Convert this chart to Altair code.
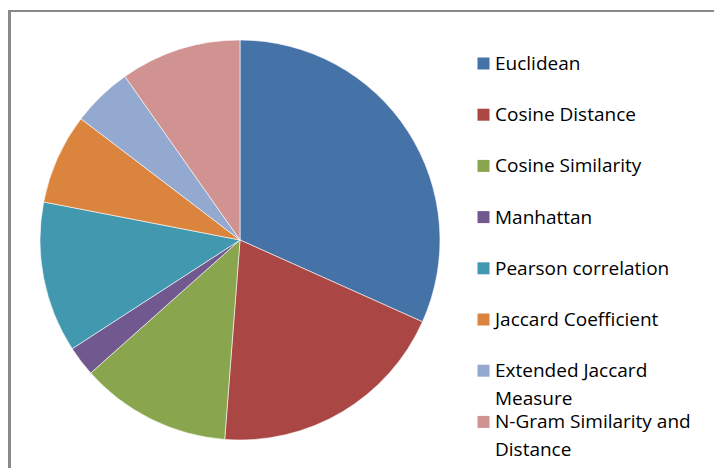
import altair as alt
import pandas as pd

categories = ["Euclidean", "Cosine Distance", "Cosine Similarity", "Manhattan",
              "Pearson correlation", "Jaccard Coefficient",
              "Extended Jaccard Measure", "N-Gram Similarity and Distance"]
labels = ["Euclidean", "Cosine Distance", "Cosine Similarity", "Manhattan",
          "Pearson correlation", "Jaccard Coefficient",
          "Extended Jaccard\nMeasure", "N-Gram Similarity and\nDistance"]
values = [13, 8, 5, 1, 5, 3, 2, 4]
colors = ["#4572A7", "#AA4643", "#89A54E", "#71588F",
          "#4198AF", "#DB843D", "#93A9CF", "#D19392"]

df = pd.DataFrame({
    "cat": categories,
    "label": labels,
    "value": values,
    "idx": list(range(len(categories))),
})

color = alt.Color("cat:N", scale=alt.Scale(domain=categories, range=colors), legend=None)

pie = alt.Chart(df).mark_arc(outerRadius=200, stroke="white", strokeWidth=0.6).encode(
    theta=alt.Theta("value:Q", stack=True),
    color=color,
    order=alt.Order("idx:Q"),
    x=alt.value(240),
    y=alt.value(240),
)

ypos = alt.Y("cat:N", scale=alt.Scale(type="point", domain=categories, range=[55, 413.4], padding=0), axis=None)

squares = alt.Chart(df).mark_square(size=144, opacity=1, yOffset=8.5).encode(
    x=alt.value(483.5),
    y=ypos,
    color=color,
)

texts = alt.Chart(df).mark_text(align="left", baseline="top", font="Open Sans", fontSize=19,
                                lineBreak="\n", lineHeight=27.5, color="black").encode(
    x=alt.value(495),
    y=ypos,
    text="label:N",
)

border = alt.Chart(df).mark_rect(fill=None, stroke="#898989", strokeWidth=2).encode(
    x=alt.value(9.5), x2=alt.value(740), y=alt.value(11), y2=alt.value(500),
)

chart = alt.layer(border, pie, squares, texts).properties(
    width=714, height=468, padding=0, autosize=alt.AutoSizeParams(type="none")
).configure_view(stroke=None)

chart.save("out.html", embed_options={"renderer": "svg", "actions": False})
